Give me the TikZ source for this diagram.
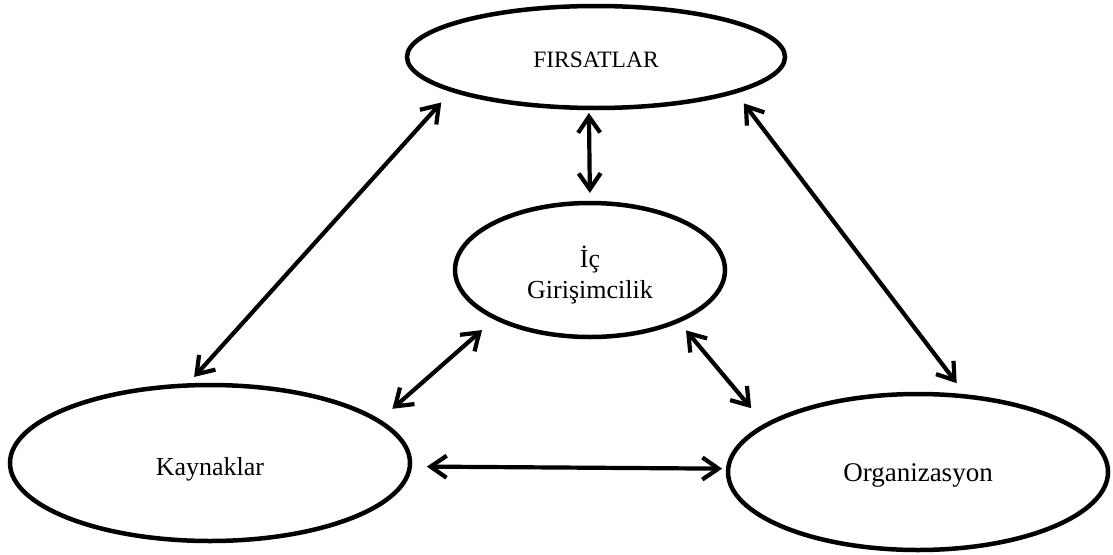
\documentclass[tikz,border=0pt]{standalone}
\usepackage{fontspec}
\setmainfont{Liberation Serif}
\usetikzlibrary{shapes.geometric,arrows.meta}
\begin{document}
\begin{tikzpicture}[x=1pt,y=-1pt,
  oval/.style={ellipse, draw=black, line width=4.5pt, fill=white,
               inner sep=0pt, outer sep=0pt},
  barb/.tip={Straight Barb[length=16pt,width=22pt]},
  link/.style={line width=4.2pt, barb-barb},
  lbl/.style={inner sep=0pt, align=center, font=\fontsize{26}{31}\selectfont}
]
\useasboundingbox (0,0) rectangle (1113,554);

% the four ellipses
\node[oval, minimum width=378pt, minimum height=102pt] (F) at (596,57) {};
\node[oval, minimum width=270pt, minimum height=134pt] (I) at (590,270) {};
\node[oval, minimum width=400pt, minimum height=156pt] (K) at (210,463) {};
\node[oval, minimum width=380pt, minimum height=156pt] (O) at (918,472) {};

% their texts
\node[lbl, font=\fontsize{23.5}{28}\selectfont, anchor=base] (Ft) at ([yshift=-10.5pt]F.center) {FIRSATLAR};
\node[lbl, anchor=base] (It) at ([yshift=-28pt]I.center) {İç\\Girişimcilik};
\node[lbl, anchor=base] (Kt) at ([yshift=-12pt]K.center) {Kaynaklar};
\node[lbl, font=\fontsize{27}{31}\selectfont, anchor=base] (Ot) at ([yshift=-9.5pt]O.center) {Organizasyon};

% two-way links
\draw[link, shorten <=16.6pt, shorten >=11.6pt] (F.193.4) -- (K.107.8);
\draw[link, shorten <=5pt,    shorten >=10pt]   (F.262.2) -- (I.90.9);
\draw[link, shorten <=14.75pt,shorten >=16.95pt](F.346.3) -- (O.57.4);
\draw[link, shorten <=18.3pt, shorten >=18.5pt] (I.207.1) -- (K.14.4);
\draw[link, shorten <=12.5pt, shorten >=22.5pt] (I.330.6) -- (O.163.0);
\draw[link, shorten <=17.1pt, shorten >=6.1pt]  (K.359.5) -- (O.179.4);
\end{tikzpicture}
\end{document}
